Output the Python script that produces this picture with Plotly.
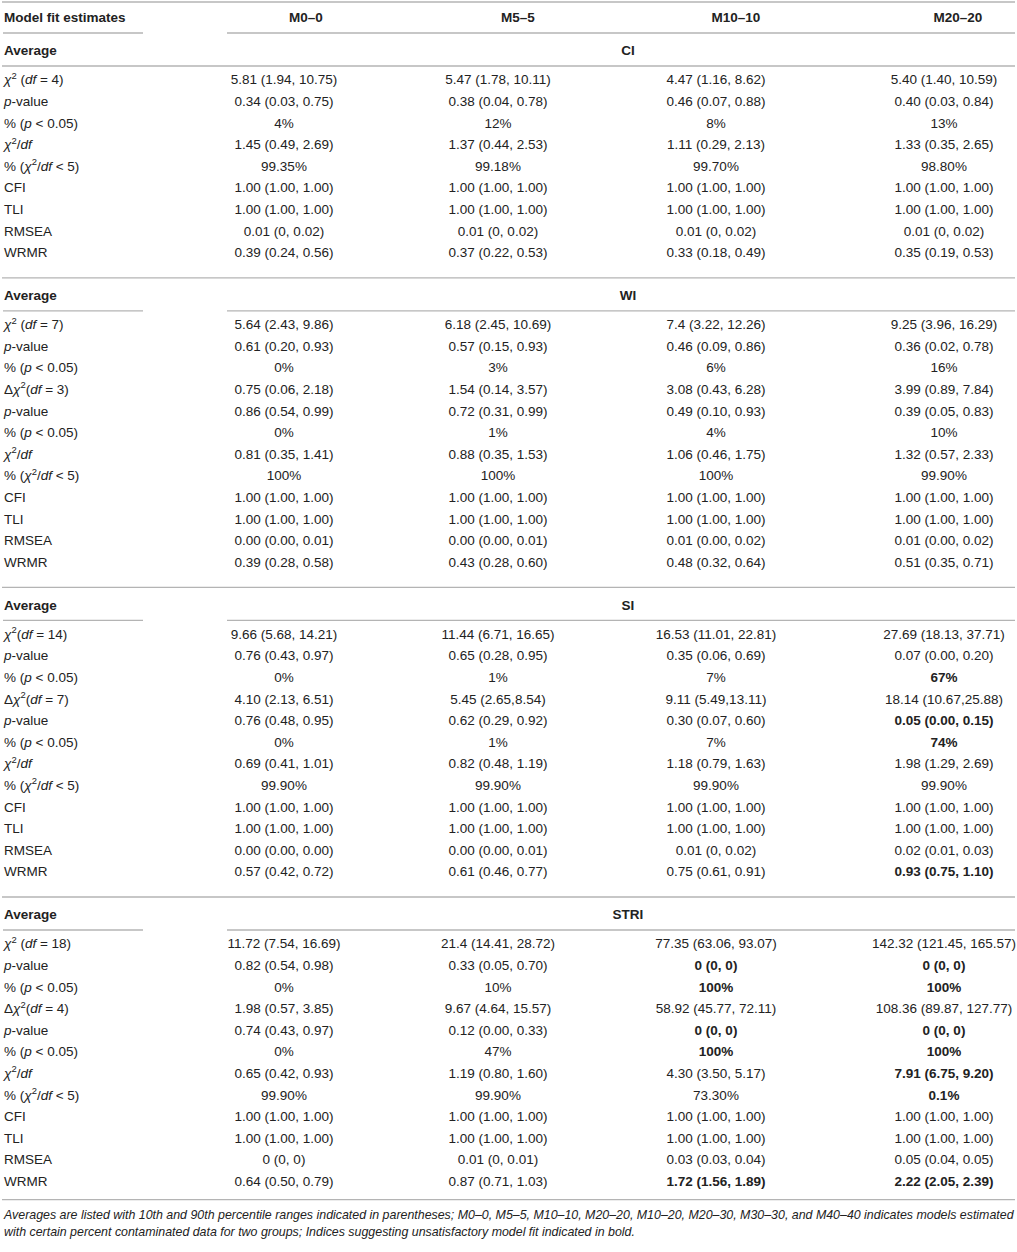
import plotly.graph_objects as go

W, H = 1017, 1252

MODELS = ["M0–0", "M5–5", "M10–10", "M20–20"]
SECTIONS = ["CI", "WI", "SI", "STRI"]

CHI = "<i>χ</i><sup>2</sup>"
DCHI = "Δ<i>χ</i><sup>2</sup>"
PVAL = "<i>p</i>-value"
PCT_P = "% (<i>p</i> < 0.05)"
RATIO = CHI + "/<i>df</i>"
PCT_R = "% (" + CHI + "/<i>df</i> < 5)"
TAIL = ["CFI", "TLI", "RMSEA", "WRMR"]

CI_LABELS = [CHI + " (<i>df</i> = 4)", PVAL, PCT_P, RATIO, PCT_R] + TAIL
WI_LABELS = [CHI + " (<i>df</i> = 7)", PVAL, PCT_P, DCHI + "(<i>df</i> = 3)", PVAL, PCT_P, RATIO, PCT_R] + TAIL
SI_LABELS = [CHI + "(<i>df</i> = 14)", PVAL, PCT_P, DCHI + "(<i>df</i> = 7)", PVAL, PCT_P, RATIO, PCT_R] + TAIL
STRI_LABELS = [CHI + " (<i>df</i> = 18)", PVAL, PCT_P, DCHI + "(<i>df</i> = 4)", PVAL, PCT_P, RATIO, PCT_R] + TAIL

CI_M0 = ["5.81 (1.94, 10.75)", "0.34 (0.03, 0.75)", "4%", "1.45 (0.49, 2.69)", "99.35%", "1.00 (1.00, 1.00)", "1.00 (1.00, 1.00)", "0.01 (0, 0.02)", "0.39 (0.24, 0.56)"]
CI_M5 = ["5.47 (1.78, 10.11)", "0.38 (0.04, 0.78)", "12%", "1.37 (0.44, 2.53)", "99.18%", "1.00 (1.00, 1.00)", "1.00 (1.00, 1.00)", "0.01 (0, 0.02)", "0.37 (0.22, 0.53)"]
CI_M10 = ["4.47 (1.16, 8.62)", "0.46 (0.07, 0.88)", "8%", "1.11 (0.29, 2.13)", "99.70%", "1.00 (1.00, 1.00)", "1.00 (1.00, 1.00)", "0.01 (0, 0.02)", "0.33 (0.18, 0.49)"]
CI_M20 = ["5.40 (1.40, 10.59)", "0.40 (0.03, 0.84)", "13%", "1.33 (0.35, 2.65)", "98.80%", "1.00 (1.00, 1.00)", "1.00 (1.00, 1.00)", "0.01 (0, 0.02)", "0.35 (0.19, 0.53)"]

WI_M0 = ["5.64 (2.43, 9.86)", "0.61 (0.20, 0.93)", "0%", "0.75 (0.06, 2.18)", "0.86 (0.54, 0.99)", "0%", "0.81 (0.35, 1.41)", "100%", "1.00 (1.00, 1.00)", "1.00 (1.00, 1.00)", "0.00 (0.00, 0.01)", "0.39 (0.28, 0.58)"]
WI_M5 = ["6.18 (2.45, 10.69)", "0.57 (0.15, 0.93)", "3%", "1.54 (0.14, 3.57)", "0.72 (0.31, 0.99)", "1%", "0.88 (0.35, 1.53)", "100%", "1.00 (1.00, 1.00)", "1.00 (1.00, 1.00)", "0.00 (0.00, 0.01)", "0.43 (0.28, 0.60)"]
WI_M10 = ["7.4 (3.22, 12.26)", "0.46 (0.09, 0.86)", "6%", "3.08 (0.43, 6.28)", "0.49 (0.10, 0.93)", "4%", "1.06 (0.46, 1.75)", "100%", "1.00 (1.00, 1.00)", "1.00 (1.00, 1.00)", "0.01 (0.00, 0.02)", "0.48 (0.32, 0.64)"]
WI_M20 = ["9.25 (3.96, 16.29)", "0.36 (0.02, 0.78)", "16%", "3.99 (0.89, 7.84)", "0.39 (0.05, 0.83)", "10%", "1.32 (0.57, 2.33)", "99.90%", "1.00 (1.00, 1.00)", "1.00 (1.00, 1.00)", "0.01 (0.00, 0.02)", "0.51 (0.35, 0.71)"]

SI_M0 = ["9.66 (5.68, 14.21)", "0.76 (0.43, 0.97)", "0%", "4.10 (2.13, 6.51)", "0.76 (0.48, 0.95)", "0%", "0.69 (0.41, 1.01)", "99.90%", "1.00 (1.00, 1.00)", "1.00 (1.00, 1.00)", "0.00 (0.00, 0.00)", "0.57 (0.42, 0.72)"]
SI_M5 = ["11.44 (6.71, 16.65)", "0.65 (0.28, 0.95)", "1%", "5.45 (2.65,8.54)", "0.62 (0.29, 0.92)", "1%", "0.82 (0.48, 1.19)", "99.90%", "1.00 (1.00, 1.00)", "1.00 (1.00, 1.00)", "0.00 (0.00, 0.01)", "0.61 (0.46, 0.77)"]
SI_M10 = ["16.53 (11.01, 22.81)", "0.35 (0.06, 0.69)", "7%", "9.11 (5.49,13.11)", "0.30 (0.07, 0.60)", "7%", "1.18 (0.79, 1.63)", "99.90%", "1.00 (1.00, 1.00)", "1.00 (1.00, 1.00)", "0.01 (0, 0.02)", "0.75 (0.61, 0.91)"]
SI_M20 = ["27.69 (18.13, 37.71)", "0.07 (0.00, 0.20)", "67%", "18.14 (10.67,25.88)", "0.05 (0.00, 0.15)", "74%", "1.98 (1.29, 2.69)", "99.90%", "1.00 (1.00, 1.00)", "1.00 (1.00, 1.00)", "0.02 (0.01, 0.03)", "0.93 (0.75, 1.10)"]

STRI_M0 = ["11.72 (7.54, 16.69)", "0.82 (0.54, 0.98)", "0%", "1.98 (0.57, 3.85)", "0.74 (0.43, 0.97)", "0%", "0.65 (0.42, 0.93)", "99.90%", "1.00 (1.00, 1.00)", "1.00 (1.00, 1.00)", "0 (0, 0)", "0.64 (0.50, 0.79)"]
STRI_M5 = ["21.4 (14.41, 28.72)", "0.33 (0.05, 0.70)", "10%", "9.67 (4.64, 15.57)", "0.12 (0.00, 0.33)", "47%", "1.19 (0.80, 1.60)", "99.90%", "1.00 (1.00, 1.00)", "1.00 (1.00, 1.00)", "0.01 (0, 0.01)", "0.87 (0.71, 1.03)"]
STRI_M10 = ["77.35 (63.06, 93.07)", "0 (0, 0)", "100%", "58.92 (45.77, 72.11)", "0 (0, 0)", "100%", "4.30 (3.50, 5.17)", "73.30%", "1.00 (1.00, 1.00)", "1.00 (1.00, 1.00)", "0.03 (0.03, 0.04)", "1.72 (1.56, 1.89)"]
STRI_M20 = ["142.32 (121.45, 165.57)", "0 (0, 0)", "100%", "108.36 (89.87, 127.77)", "0 (0, 0)", "100%", "7.91 (6.75, 9.20)", "0.1%", "1.00 (1.00, 1.00)", "1.00 (1.00, 1.00)", "0.05 (0.04, 0.05)", "2.22 (2.05, 2.39)"]

# (section, row, model column) of cells printed in bold
BOLD = {
    ("SI", 2, 3), ("SI", 4, 3), ("SI", 5, 3), ("SI", 11, 3),
    ("STRI", 1, 2), ("STRI", 1, 3), ("STRI", 2, 2), ("STRI", 2, 3),
    ("STRI", 4, 2), ("STRI", 4, 3), ("STRI", 5, 2), ("STRI", 5, 3),
    ("STRI", 6, 3), ("STRI", 7, 3), ("STRI", 11, 2), ("STRI", 11, 3),
}

FOOTNOTE = [
    "Averages are listed with 10th and 90th percentile ranges indicated in parentheses; M0–0, M5–5, M10–10, M20–20, M10–20, M20–30, M30–30, and M40–40 indicates models estimated",
    "with certain percent contaminated data for two groups; Indices suggesting unsatisfactory model fit indicated in bold.",
]

TABLE = {
    "CI": (CI_LABELS, [CI_M0, CI_M5, CI_M10, CI_M20]),
    "WI": (WI_LABELS, [WI_M0, WI_M5, WI_M10, WI_M20]),
    "SI": (SI_LABELS, [SI_M0, SI_M5, SI_M10, SI_M20]),
    "STRI": (STRI_LABELS, [STRI_M0, STRI_M5, STRI_M10, STRI_M20]),
}

# layout (pixels)
LABEL_X = 4
COL_X = [284, 498, 716, 944]
HEAD_X = [306, 518, 736, 958]
SECTION_X = 628
PITCH = 21.6
FONT = "Liberation Sans, Arial, sans-serif"
SIZE = 13.5
INK = "#222222"
RULE = "#b4b4b4"

fig = go.Figure()
shapes = []


def hline(y, x0=2, x1=W - 2):
    shapes.append(dict(type="line", x0=x0, x1=x1, y0=y, y1=y,
                       line=dict(color=RULE, width=1.3), layer="below"))


def split_line(y):
    hline(y, 3, 143)
    hline(y, 227, W - 2)


def text_trace(xs, ys, txt, pos, size=SIZE):
    fig.add_trace(go.Scatter(x=xs, y=ys, text=txt, mode="text", textposition=pos,
                             textfont=dict(family=FONT, size=size, color=INK),
                             cliponaxis=False, hoverinfo="skip", showlegend=False))


# header
hline(2)
text_trace([LABEL_X], [19], ["<b>Model fit estimates</b>"], "middle right")
text_trace(HEAD_X, [19] * 4, ["<b>%s</b>" % m for m in MODELS], "middle center")
split_line(33)

y = 33
for si, sec in enumerate(SECTIONS):
    labels, cols = TABLE[sec]
    y_avg = y + 19
    text_trace([LABEL_X], [y_avg], ["<b>Average</b>"], "middle right")
    text_trace([SECTION_X], [y_avg], ["<b>%s</b>" % sec], "middle center")
    if si == 0:
        hline(y_avg + 14)
    else:
        split_line(y_avg + 14)
    y0 = y_avg + 29
    ys = [y0 + i * PITCH for i in range(len(labels))]
    text_trace([LABEL_X] * len(labels), ys, labels, "middle right")
    for ci, vals in enumerate(cols):
        txt = ["<b>%s</b>" % v if (sec, ri, ci) in BOLD else v for ri, v in enumerate(vals)]
        text_trace([COL_X[ci]] * len(vals), ys, txt, "middle center")
    y = ys[-1] + (24 if si < 3 else 17)
    hline(y)

text_trace([LABEL_X, LABEL_X], [y + 16, y + 33], ["<i>%s</i>" % t for t in FOOTNOTE],
           "middle right", size=12.4)

fig.update_layout(
    width=W, height=H, autosize=False,
    margin=dict(l=0, r=0, t=0, b=0),
    paper_bgcolor="white", plot_bgcolor="white",
    xaxis=dict(range=[0, W], visible=False, fixedrange=True),
    yaxis=dict(range=[H, 0], visible=False, fixedrange=True),
    shapes=shapes,
)

# drop the default page margin so the figure sits flush in the window
fig.write_html("out.html", config={"displayModeBar": False},
               post_script="document.body.style.margin='0';")
